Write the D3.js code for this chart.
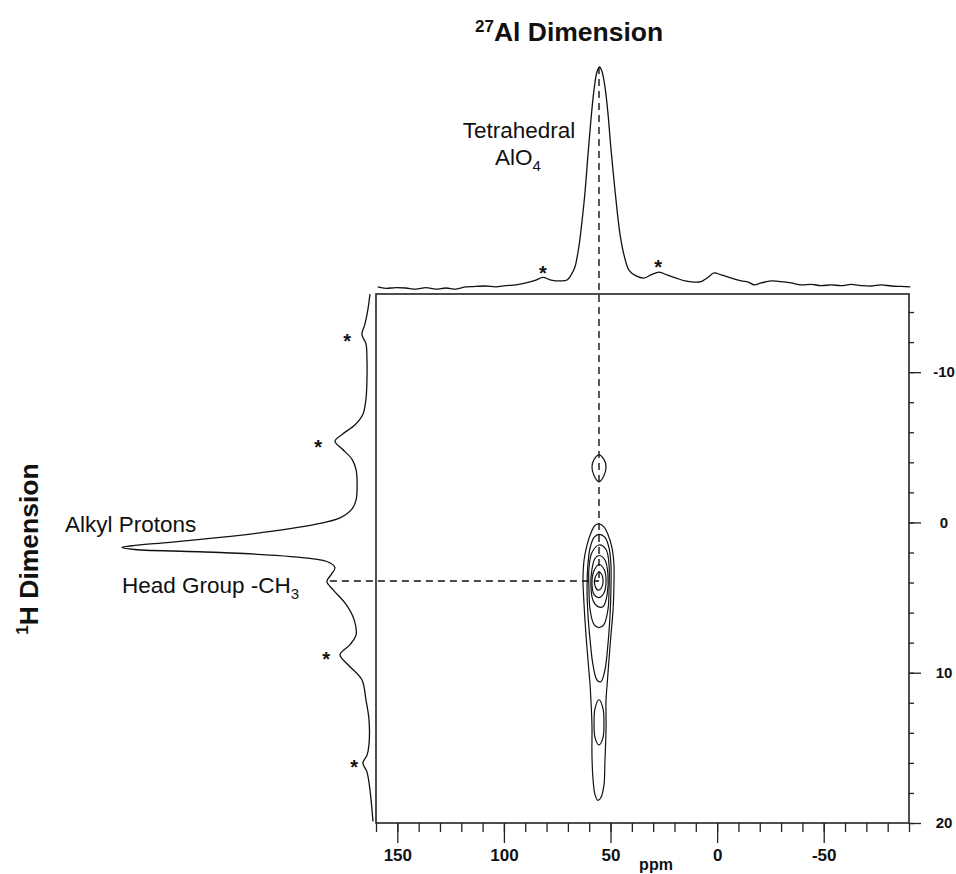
<!DOCTYPE html>
<html lang="en">
<head>
    <meta charset="UTF-8">
    <title>27Al / 1H HETCOR</title>
    <script src="https://d3js.org/d3.v7.min.js"></script>
    <style>
        body { margin: 0; background: #fff; }
        text { font-family: "Liberation Sans", Arial, Helvetica, sans-serif; fill: #111; }
    </style>
</head>
<body>
<div id="main"></div>
<script>
    // 27Al projection (top): chemical shift in ppm, intensity in % of the peak
    const alPpm = [159.2, 155.4, 150.7, 146.0, 141.3, 136.6, 131.9, 127.2, 122.5, 117.8, 113.1, 108.5, 103.8, 99.1, 94.4,
        89.7, 85.0, 81.7, 77.9, 73.2, 70.4, 68.5, 66.7, 64.8, 63.4, 62.0, 60.6, 59.2, 57.7, 56.3, 55.1, 54.0, 52.6,
        51.2, 49.8, 48.4, 46.9, 45.5, 43.7, 41.3, 38.0, 34.3, 31.0, 27.2, 23.5, 19.2, 15.0, 10.8, 7.5, 4.7, 1.4,
        -1.9, -6.6, -11.3, -14.6, -17.4, -20.7, -25.4, -30.0, -34.7, -39.4, -44.1, -48.8, -53.5, -58.2, -62.9,
        -67.6, -72.3, -77.0, -81.7, -86.4, -90.6]
    const alIntensity = [0.5, -0.2, 0.2, 0, -0.5, 0.2, -0.5, 0, -0.5, 0.5, 0.7, 0.9, 0.5, 1.1, 1.4,
        2.3, 3.6, 4.8, 3.6, 3.2, 3.6, 5.9, 9.5, 19, 30, 43, 60, 76, 90, 98, 100, 98, 91,
        79, 63, 49, 35, 24, 15, 8, 5.5, 4.5, 5.9, 7.2, 5.9, 4.5, 3.2, 2.7, 2.9, 4.5, 6.8,
        5.9, 4.5, 3.2, 2.7, 1.4, 2.3, 3.2, 2.9, 2.3, 1.4, 1.6, 1.1, 1.4, 1.1, 1.6,
        1.1, 0.9, 1.4, 0.9, 0.7, 0.5]

    // 1H projection (left): chemical shift in ppm, intensity in % of the peak
    const hPpm = [-15.2, -14.2, -13.2, -12.5, -11.9, -10.9, -9.5, -8.2, -7.2, -6.5, -5.9, -5.4, -4.9, -4.2, -3.5,
        -2.5, -1.5, -0.9, -0.3, 0.13, 0.6, 1.0, 1.33, 1.53, 1.67, 1.8, 2.0, 2.27, 2.6, 3.0, 3.47, 3.93, 4.47,
        5.47, 6.47, 7.47, 8.13, 8.8, 9.47, 10.47, 11.8, 13.1, 14.8, 15.5, 16.0, 16.6, 17.8, 19.9]
    const hIntensity = [1.6, 2.4, 3.6, 4.8, 3.2, 2.8, 2.8, 3.2, 4.4, 7.5, 12.3, 15.5, 12.7, 8.7, 7.1,
        6.7, 7.1, 8.7, 13.5, 23.4, 41, 61, 81, 95, 100, 95, 61, 33, 18.7, 15.5, 17, 18.7, 16.3,
        11, 7.9, 7.1, 9.5, 13.5, 10.3, 4.8, 3.2, 2, 2, 2.8, 4.4, 2.8, 1.6, 0.4]

    // spinning sidebands (*): [ppm, intensity]
    const alSidebands = [[81.7, 9.0], [27.7, 11.8]]
    const hSidebands = [[-12.4, 10.7], [-5.3, 22.2], [8.8, 19.0], [16.0, 7.9]]

    // 2D contour lines: [27Al ppm, 1H ppm]
    const contour1 = [[55.4, 0.1], [53.1, 0.3], [51.2, 0.8], [49.3, 1.7], [48.4, 2.8], [48.4, 4.2], [48.8, 5.8], [49.8, 7.5],
        [50.7, 9.1], [51.6, 10.8], [52.1, 11.8], [52.1, 13.8], [52.6, 15.8], [53.1, 17.5], [54.5, 18.3], [55.9, 18.5],
        [57.3, 18.1], [58.2, 17.1], [58.7, 15.5], [58.7, 13.5], [59.2, 11.8], [59.6, 10.8], [60.6, 9.1], [61.5, 7.5],
        [62.4, 5.5], [62.9, 3.8], [62.4, 2.5], [61.0, 1.5], [59.2, 0.7], [57.3, 0.2]]
    const contour2 = [[55.4, 0.8], [52.6, 1.0], [50.7, 1.7], [49.8, 2.8], [49.8, 4.5], [50.2, 6.1], [51.2, 8.1], [52.6, 9.8],
        [54.5, 10.6], [56.3, 10.5], [58.2, 9.5], [59.6, 7.8], [60.6, 6.1], [61.0, 4.5], [60.6, 2.8], [59.6, 1.7], [57.7, 1.0]]
    const contour3 = [[55.4, 1.5], [52.1, 1.8], [50.7, 2.8], [50.7, 4.5], [51.2, 5.8], [53.1, 6.8], [55.4, 7.0], [57.7, 6.8],
        [59.6, 5.8], [60.1, 4.5], [60.1, 3.0], [58.7, 2.0]]
    const contour4 = [[55.4, 2.2], [52.6, 2.5], [51.2, 3.5], [51.6, 4.8], [53.5, 5.6], [55.9, 5.6], [58.2, 5.2], [59.2, 4.2],
        [58.7, 3.1], [57.3, 2.4]]
    const contour5 = [[55.4, 2.8], [53.1, 3.1], [52.1, 3.8], [53.1, 4.7], [55.4, 5.0], [57.7, 4.8], [58.7, 4.0], [57.7, 3.2]]
    const contour6 = [[55.4, 3.3], [54.0, 3.5], [53.5, 4.0], [54.5, 4.4], [55.9, 4.5], [57.3, 4.2], [57.3, 3.7]]
    const contourLow = [[55.4, 11.8], [53.5, 12.4], [53.1, 13.3], [53.5, 14.3], [55.4, 14.8], [57.3, 14.3], [57.7, 13.3], [57.3, 12.4]]
    const contourTop = [[55.4, -4.5], [53.1, -4.2], [52.1, -3.7], [53.1, -3.1], [55.4, -2.7], [57.7, -3.1], [58.7, -3.7], [57.7, -4.2]]

    // correlation guide lines
    const alPeakPpm = 55.4
    const headGroupPpm = 3.9
    const headGroupIntensity = 17.5

    // axis ticks
    const xMajorTicks = [150, 100, 50, 0, -50]
    const xMinorTicks = d3.range(-90, 161, 10)
    const yMajorTicks = [-10, 0, 10, 20]
    const yMinorTicks = d3.range(-14, 21, 2)

    let width = 956, height = 874

    let svg = d3.select("#main")
        .append("svg")
        .attr("id", "svg")
        .attr("width", width)
        .attr("height", height)

    svg.append("rect").attr("width", width).attr("height", height).attr("fill", "#fff")

    // scales
    let XScale = d3.scaleLinear().domain([160, -90]).range([376, 909])
    let YScale = d3.scaleLinear().domain([-15.2, 20]).range([294, 823])
    let topScale = d3.scaleLinear().domain([0, 100]).range([288, 67])
    let leftScale = d3.scaleLinear().domain([0, 100]).range([374, 122])

    let ink = "#111"

    // frame
    svg.append("rect")
        .attr("x", XScale(160)).attr("y", YScale(-15.2))
        .attr("width", XScale(-90) - XScale(160))
        .attr("height", YScale(20) - YScale(-15.2))
        .attr("fill", "none")
        .attr("stroke", "#222")
        .attr("stroke-width", 1.6)

    // bottom axis (ppm)
    let xMinor = d3.axisBottom(XScale).tickValues(xMinorTicks).tickSize(9).tickFormat("")
    let xMajor = d3.axisBottom(XScale).tickValues(xMajorTicks).tickSize(20).tickPadding(6).tickFormat(d3.format("d"))

    let gxMinor = svg.append("g").attr("transform", `translate(0, ${YScale(20)})`).call(xMinor)
    let gxMajor = svg.append("g").attr("transform", `translate(0, ${YScale(20)})`).call(xMajor)
    gxMajor.selectAll("text")
        .style("font-size", "17px").style("font-weight", "bold")
        .text(d => d < 0 ? "-" + Math.abs(d) : d)

    // right axis (1H)
    let yMinor = d3.axisRight(YScale).tickValues(yMinorTicks).tickSize(5).tickFormat("")
    let yMajor = d3.axisRight(YScale).tickValues(yMajorTicks).tickSize(12).tickFormat(d => d < 0 ? "-" + Math.abs(d) : d)

    let gyMinor = svg.append("g").attr("transform", `translate(${XScale(-90)}, 0)`).call(yMinor)
    let gyMajor = svg.append("g").attr("transform", `translate(${XScale(-90)}, 0)`).call(yMajor)
    gyMajor.selectAll("text")
        .attr("x", 35)
        .attr("text-anchor", "middle")
        .style("font-size", "15px").style("font-weight", "bold")

    svg.selectAll(".domain").remove()
    svg.selectAll(".tick line").attr("stroke", "#222").attr("stroke-width", 1.3)

    svg.append("text")
        .attr("x", XScale(alPeakPpm) + 57).attr("y", 870)
        .attr("text-anchor", "middle")
        .style("font-size", "16px").style("font-weight", "bold")
        .text("ppm")

    // projections
    let alData = alPpm.map((p, i) => ({ppm: p, v: alIntensity[i]}))
    let hData = hPpm.map((p, i) => ({ppm: p, v: hIntensity[i]}))

    let alLine = d3.line()
        .x(d => XScale(d.ppm))
        .y(d => topScale(d.v))
        .curve(d3.curveCatmullRom.alpha(0.5))

    let hLine = d3.line()
        .x(d => leftScale(d.v))
        .y(d => YScale(d.ppm))
        .curve(d3.curveCatmullRom.alpha(0.5))

    svg.append("path")
        .attr("d", alLine(alData))
        .attr("fill", "none").attr("stroke", ink).attr("stroke-width", 1.3)

    svg.append("path")
        .attr("d", hLine(hData))
        .attr("fill", "none").attr("stroke", ink).attr("stroke-width", 1.3)

    // contours
    let contourLine = d3.line()
        .x(d => XScale(d[0]))
        .y(d => YScale(d[1]))
        .curve(d3.curveCatmullRomClosed.alpha(0.5))

    svg.append("g").selectAll("path")
        .data([contour1, contour2, contour3, contour4, contour5, contour6, contourLow, contourTop])
        .enter()
        .append("path")
        .attr("d", d => contourLine(d))
        .attr("fill", "none")
        .attr("stroke", ink)
        .attr("stroke-width", 1.2)

    // dashed guide lines
    svg.append("line")
        .attr("x1", XScale(alPeakPpm)).attr("x2", XScale(alPeakPpm))
        .attr("y1", topScale(100)).attr("y2", YScale(headGroupPpm))
        .attr("stroke", ink).attr("stroke-width", 1.4)
        .attr("stroke-dasharray", "7,5")

    svg.append("line")
        .attr("x1", leftScale(headGroupIntensity)).attr("x2", XScale(alPeakPpm))
        .attr("y1", YScale(headGroupPpm)).attr("y2", YScale(headGroupPpm))
        .attr("stroke", ink).attr("stroke-width", 1.4)
        .attr("stroke-dasharray", "7,5")

    // sideband asterisks
    svg.append("g").selectAll("text")
        .data(alSidebands)
        .enter()
        .append("text")
        .attr("x", d => XScale(d[0]))
        .attr("y", d => topScale(d[1]))
        .attr("dy", "0.58em")
        .attr("text-anchor", "middle")
        .style("font-size", "20px").style("font-weight", "bold")
        .text("*")

    svg.append("g").selectAll("text")
        .data(hSidebands)
        .enter()
        .append("text")
        .attr("x", d => leftScale(d[1]))
        .attr("y", d => YScale(d[0]))
        .attr("dy", "0.58em")
        .attr("text-anchor", "middle")
        .style("font-size", "20px").style("font-weight", "bold")
        .text("*")

    // titles
    let title = svg.append("text")
        .attr("x", 475).attr("y", 41)
        .style("font-size", "26.5px").style("font-weight", "bold")
    title.append("tspan").attr("dy", -9).style("font-size", "17px").text("27")
    title.append("tspan").attr("dy", 9).text("Al Dimension")

    let yTitle = svg.append("text")
        .attr("transform", "translate(38, 549) rotate(-90)")
        .attr("text-anchor", "middle")
        .style("font-size", "26.5px").style("font-weight", "bold")
    yTitle.append("tspan").attr("dy", -10).style("font-size", "17px").text("1")
    yTitle.append("tspan").attr("dy", 10).text("H Dimension")

    // peak labels
    svg.append("text")
        .attr("x", 519).attr("y", 138)
        .attr("text-anchor", "middle")
        .style("font-size", "22.5px")
        .text("Tetrahedral")

    let alo = svg.append("text")
        .attr("x", 495).attr("y", 165)
        .style("font-size", "22.5px")
    alo.append("tspan").text("AlO")
    alo.append("tspan").attr("dy", 6).style("font-size", "15px").text("4")

    svg.append("text")
        .attr("x", 65).attr("y", 532)
        .style("font-size", "22.5px")
        .text("Alkyl Protons")

    let head = svg.append("text")
        .attr("x", 122).attr("y", 593)
        .style("font-size", "22.5px")
    head.append("tspan").text("Head Group -CH")
    head.append("tspan").attr("dy", 6).style("font-size", "15px").text("3")
</script>
</body>
</html>
